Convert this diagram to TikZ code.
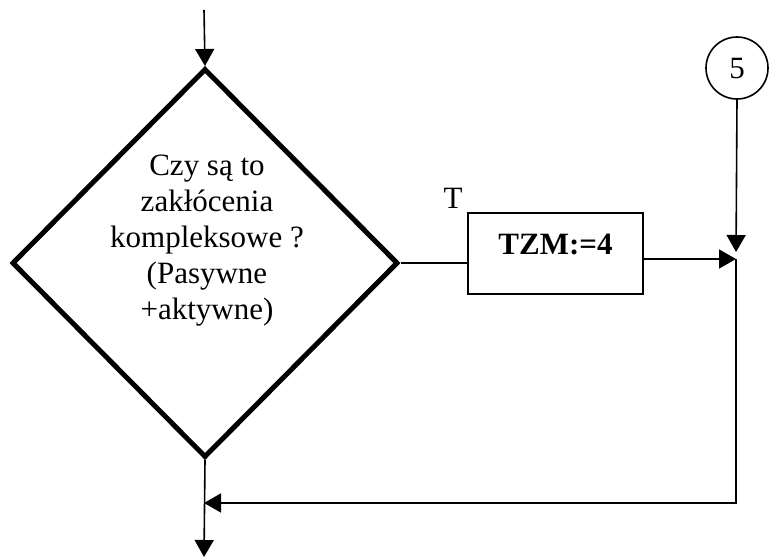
\documentclass[tikz,border=0pt]{standalone}
\usepackage{fontspec}
\setmainfont{Liberation Serif}
\usetikzlibrary{shapes.geometric,arrows.meta}
\tikzset{
  flow/.style={line width=1.6pt, -{Triangle[length=17pt,width=19pt]}},
  link/.style={line width=1.6pt},
  decision/.style={diamond, draw, line width=5pt, minimum width=386pt, minimum height=389pt, inner sep=0pt},
  action/.style={rectangle, draw, line width=1.6pt, minimum width=175pt, minimum height=81pt, font=\bfseries\fontsize{31}{36}\selectfont},
  connector/.style={circle, draw, line width=1.6pt, minimum size=62pt, inner sep=0pt}
}
\begin{document}
\begin{tikzpicture}[x=1pt, y=-1pt, font=\fontsize{31}{36}\selectfont]
  \useasboundingbox (0,0) rectangle (769,560);
  % romb z pytaniem
  \node[decision] (dec) at (205,263) {};
  \node[align=center] (dectext) at (207,241) {Czy są to\\ zakłócenia\\ kompleksowe ?\\ (Pasywne\\ +aktywne)};
  % blok i lacznik
  \node[action, text depth=18pt] (tzm) at (555.5,253.5) {TZM:=4};
  \node (tlab) at (453,198) {T};
  \node[connector] (c5) at (737,68) {5};
  % punkty pomocnicze
  \coordinate (start) at (204,10);
  \coordinate (join) at (736,259);
  \coordinate (merge) at (204,503);
  \coordinate (end) at (204,557);
  % polaczenia
  \draw[flow] (start) -- (dec.north);
  \draw[link] (dec.east) -- (dec.east -| tzm.west);
  \draw[flow] (tzm.east |- join) -- (join);
  \draw[flow, shorten >=7pt] (c5.south) -- (join);
  \draw[flow] (join) |- (merge);
  \draw[flow] (dec.south) -- (end);
\end{tikzpicture}
\end{document}
